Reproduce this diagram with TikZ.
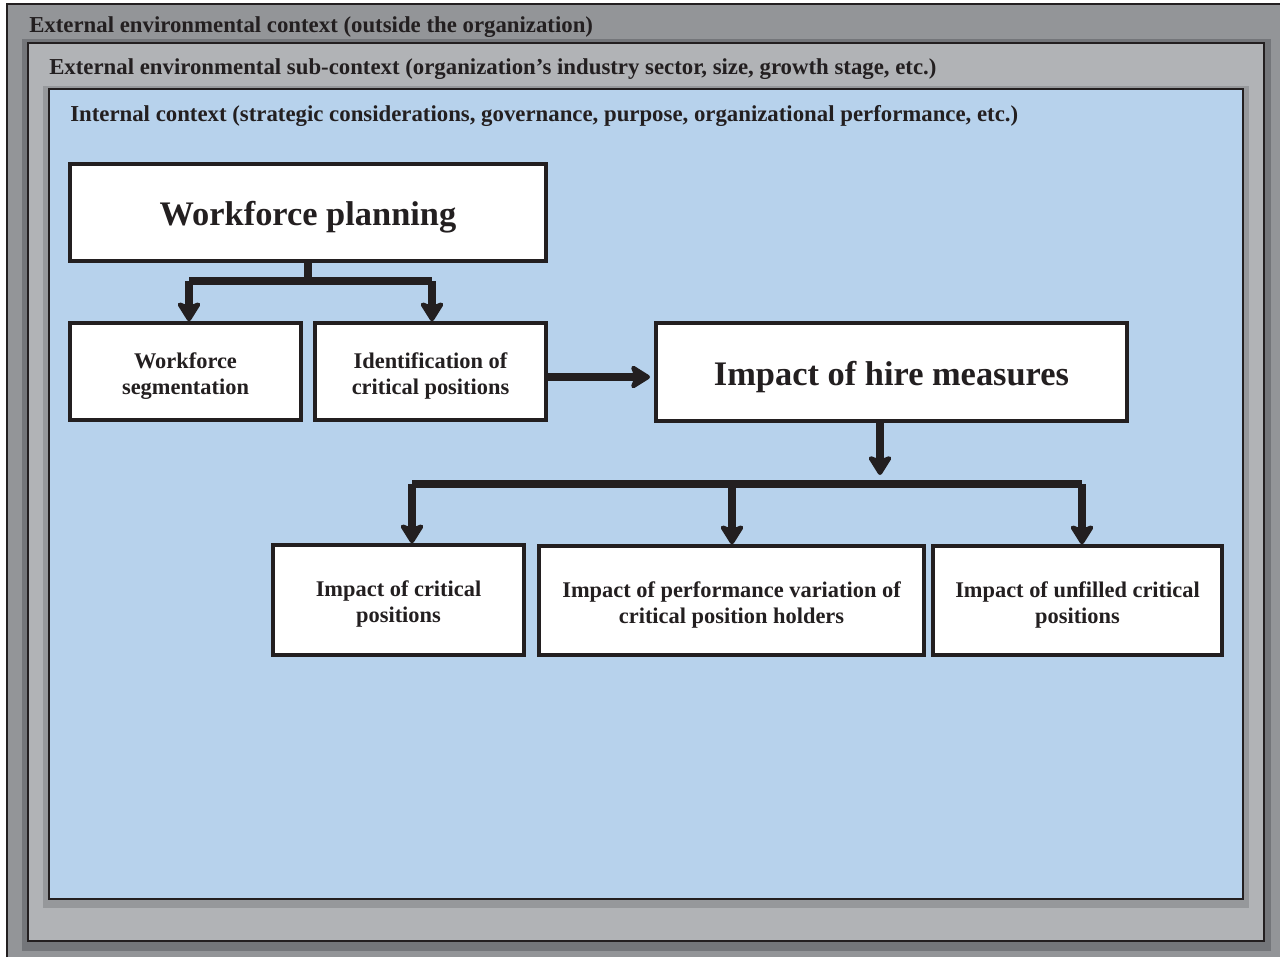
\documentclass[tikz,border=0pt]{standalone}
\usepackage{fontspec}
\setmainfont{Liberation Serif}
\usetikzlibrary{arrows.meta,calc}
\definecolor{outergray}{HTML}{939598}
\definecolor{midgray}{HTML}{B1B3B6}
\definecolor{shadowdark}{HTML}{74767A}
\definecolor{shadowmid}{HTML}{96989B}
\definecolor{skyfill}{HTML}{B7D2EC}
\definecolor{ink}{HTML}{231F20}
% taller first line, so that two-line labels sit a little lower in their boxes
\newcommand\firstline{\rule{0pt}{1.08em}}
\begin{document}
\begin{tikzpicture}[x=0.75pt,y=-0.75pt,
  frame/.style={draw=ink,line width=1.9pt},
  box/.style={draw=ink,fill=white,line width=2.6pt,inner sep=0pt,align=center,
    font=\fontsize{16.8}{19.5}\selectfont\bfseries,text=ink},
  bigbox/.style={box,font=\fontsize{25.8}{28}\selectfont\bfseries,
    execute at begin node={\rule{0pt}{1em}}},
  head/.style={anchor=base west,inner sep=0pt,text=ink,font=\fontsize{17.1}{18}\selectfont\bfseries},
  link/.style={draw=ink,line width=6pt},
  arr/.style={link,-{Stealth[length=17pt,width=21pt,inset=4pt,round]}}]
\useasboundingbox (0,0) rectangle (1280,957);
\fill[white] (0,0) rectangle (1280,957);
% outermost context
\fill[outergray] (7,4) rectangle (1280,957);
\draw[frame] (7,957) -- (7,4) -- (1280,4);
% sub-context frame with its shadow
\fill[shadowdark] (22,39) rectangle (1271,951);
\fill[midgray,frame] (28,43) rectangle (1264,941);
% internal context frame with its shadow
\fill[shadowmid] (43,86) rectangle (1249,908);
\fill[skyfill,frame] (49,89) rectangle (1243,899);
\node[head] (hd1) at (29,32) {External environmental context (outside the organization)};
\node[head] (hd2) at (49,74) {External environmental sub-context (organization's industry sector, size, growth stage, etc.)};
\node[head] (hd3) at (70,121) {Internal context (strategic considerations, governance, purpose, organizational performance, etc.)};
% boxes
\node[bigbox,minimum width=357pt,minimum height=72.75pt] (wp) at (308,212.5) {Workforce planning};
\node[box,minimum width=173.25pt,minimum height=72.75pt] (ws) at (185.5,371.5) {\firstline Workforce\\segmentation};
\node[box,minimum width=173.25pt,minimum height=72.75pt] (icp) at (430.5,371.5) {\firstline Identification of\\critical positions};
\node[bigbox,minimum width=353.25pt,minimum height=73.5pt] (hire) at (891.5,372) {Impact of hire measures};
\node[box,minimum width=188.25pt,minimum height=82.5pt] (c1) at (398.5,600) {\firstline Impact of critical\\positions};
\node[box,minimum width=288.75pt,minimum height=81.75pt] (c2) at (731.5,600.5) {\firstline Impact of performance variation of\\critical position holders};
\node[box,minimum width=216.75pt,minimum height=81.75pt] (c3) at (1077.5,600.5) {\firstline Impact of unfilled critical\\positions};
% connectors
\coordinate (j1) at (308,281);
\coordinate (j1l) at (189,281);
\coordinate (j1r) at (432,281);
\draw[link] (wp.south) -- (j1);
\draw[link] (j1l) -- (j1r);
\draw[arr] (j1l) -- (j1l |- ws.north);
\draw[arr] (j1r) -- (j1r |- icp.north);
\coordinate (htarget) at (650,377);
\draw[arr] (icp.east |- htarget) -- (htarget);
\coordinate (htip) at (880,475);
\draw[arr] (hire.south -| htip) -- (htip);
\coordinate (b1) at (412,484);
\coordinate (b2) at (732,484);
\coordinate (b3) at (1082,484);
\draw[link] (b1) -- (b3);
\draw[arr] (b1) -- (b1 |- c1.north);
\draw[arr] (b2) -- (b2 |- c2.north);
\draw[arr] (b3) -- (b3 |- c3.north);
\end{tikzpicture}
\end{document}
